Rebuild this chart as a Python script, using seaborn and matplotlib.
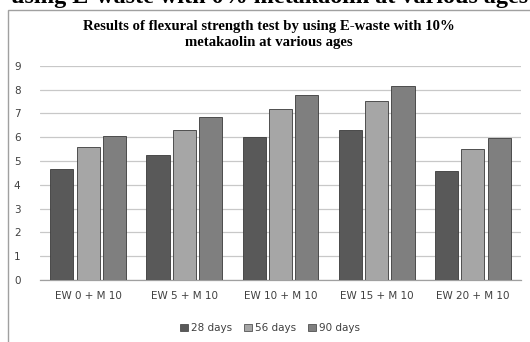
import matplotlib
matplotlib.use('Agg')
import matplotlib.pyplot as plt
import matplotlib.patches as mpatches
import seaborn as sns
import pandas as pd

# chart data
mixes = ['EW 0 + M 10', 'EW 5 + M 10', 'EW 10 + M 10', 'EW 15 + M 10', 'EW 20 + M 10']
ages = ['28 days', '56 days', '90 days']
days_28 = [4.68, 5.26, 5.99, 6.28, 4.59]
days_56 = [5.57, 6.32, 7.17, 7.52, 5.49]
days_90 = [6.05, 6.84, 7.79, 8.16, 5.96]
bar_colors = ['#595959', '#a6a6a6', '#7f7f7f']

df = pd.DataFrame({
    'mix': mixes * 3,
    'age': [a for a in ages for _ in mixes],
    'strength': days_28 + days_56 + days_90,
})

sns.set_theme(style='white')
plt.rcParams['font.family'] = ['DejaVu Sans']

fig = plt.figure(figsize=(5.30, 3.42), dpi=100)
fig.patch.set_facecolor('white')

# chart frame (excel chart area border)
fig.add_artist(mpatches.Rectangle((8 / 530, -0.01), 1.0, 1 - 10 / 342 + 0.01,
                                  transform=fig.transFigure, fill=False,
                                  edgecolor='#a0a0a0', linewidth=1.0))

# caption of the page, cut off at the top edge
fig.text(270 / 530, 1 - 2.5 / 342, 'using E-waste with 0% metakaolin at various ages',
         ha='center', va='baseline', fontsize=17.4, fontweight='bold',
         family='Liberation Serif', color='black')

ax = fig.add_axes([40 / 530, 1 - 280 / 342, 481 / 530, (280 - 65.7) / 342])
sns.barplot(data=df, x='mix', y='strength', hue='age', palette=bar_colors,
            width=0.82, gap=0.12, edgecolor='#3a3a3a', linewidth=0.6,
            legend=False, ax=ax, zorder=3)

ax.set_ylim(0, 9)
ax.set_yticks(range(0, 10))
ax.yaxis.grid(True, color='#c8c8c8', linewidth=0.9, zorder=0)
ax.set_axisbelow(True)
for side in ['top', 'right', 'left']:
    ax.spines[side].set_visible(False)
ax.spines['bottom'].set_color('#a0a0a0')
ax.spines['bottom'].set_linewidth(0.9)
ax.set_xlabel('')
ax.set_ylabel('')
ax.tick_params(axis='both', length=0, labelsize=7.5, colors='#404040', pad=8)
ax.tick_params(axis='y', pad=14)

fig.text(269 / 530, 1 - 34.5 / 342, 'Results of flexural strength test by using E-waste with 10%\nmetakaolin at various ages',
         ha='center', va='center', fontsize=10.6, fontweight='bold',
         family='Liberation Serif', color='black', linespacing=1.25)

handles = [mpatches.Patch(facecolor=c, edgecolor='#3a3a3a', linewidth=0.5, label=a)
           for a, c in zip(ages, bar_colors)]
fig.legend(handles=handles, loc='center', bbox_to_anchor=(270 / 530, 1 - 328 / 342),
           ncol=3, frameon=False, fontsize=7.5, handlelength=0.7, handleheight=0.7,
           handletextpad=0.3, columnspacing=1.2, labelcolor='#404040')

fig.savefig('out.png', dpi=100, facecolor='white')
